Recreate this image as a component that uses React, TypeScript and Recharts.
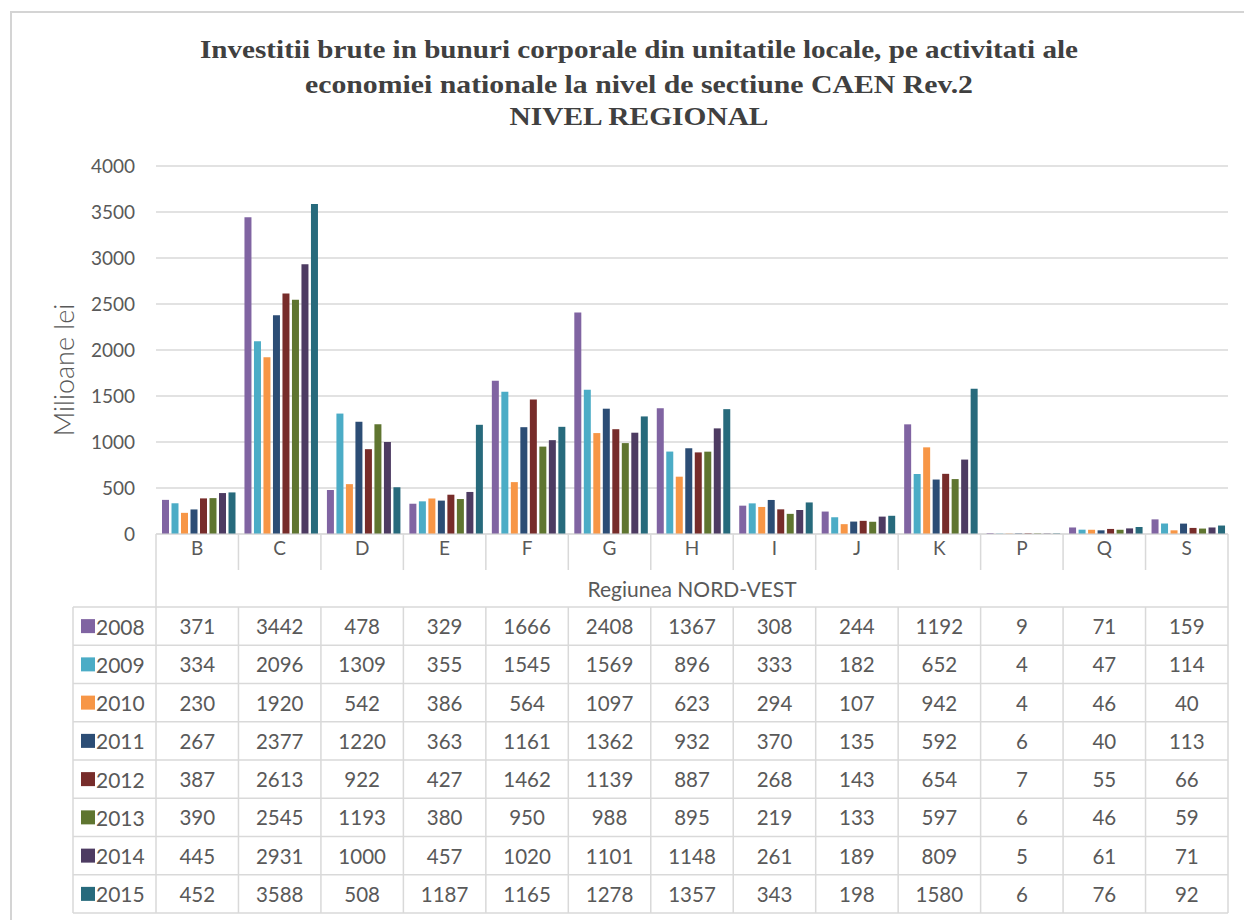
import React from 'react';
import { BarChart, Bar, XAxis, YAxis, CartesianGrid } from 'recharts';

const categories = ['B', 'C', 'D', 'E', 'F', 'G', 'H', 'I', 'J', 'K', 'P', 'Q', 'S'];
const years = ['2008', '2009', '2010', '2011', '2012', '2013', '2014', '2015'];
const v2008 = [371, 3442, 478, 329, 1666, 2408, 1367, 308, 244, 1192, 9, 71, 159];
const v2009 = [334, 2096, 1309, 355, 1545, 1569, 896, 333, 182, 652, 4, 47, 114];
const v2010 = [230, 1920, 542, 386, 564, 1097, 623, 294, 107, 942, 4, 46, 40];
const v2011 = [267, 2377, 1220, 363, 1161, 1362, 932, 370, 135, 592, 6, 40, 113];
const v2012 = [387, 2613, 922, 427, 1462, 1139, 887, 268, 143, 654, 7, 55, 66];
const v2013 = [390, 2545, 1193, 380, 950, 988, 895, 219, 133, 597, 6, 46, 59];
const v2014 = [445, 2931, 1000, 457, 1020, 1101, 1148, 261, 189, 809, 5, 61, 71];
const v2015 = [452, 3588, 508, 1187, 1165, 1278, 1357, 343, 198, 1580, 6, 76, 92];
const series = [v2008, v2009, v2010, v2011, v2012, v2013, v2014, v2015];
const colors = ['#8064A2', '#4BACC6', '#F79646', '#2C4D75', '#772C2A', '#5F7530', '#4D3B62', '#276A7C'];
const yTicks = [0, 500, 1000, 1500, 2000, 2500, 3000, 3500, 4000];
const titleLines = [
  'Investitii brute in bunuri corporale din unitatile locale, pe activitati ale',
  'economiei nationale la nivel de sectiune CAEN Rev.2',
  'NIVEL REGIONAL',
];
const titleWidths = [878, 668, 259];
const titleBaselines = [58, 93, 125];
const xAxisTitle = 'Regiunea NORD-VEST';
const yAxisTitle = 'Milioane lei';

const data = categories.map((c, i) => {
  const row: Record<string, string | number> = { cat: c };
  years.forEach((y, s) => {
    row[y] = series[s][i];
  });
  return row;
});

const W = 1244;
const H = 920;
const plotLeft = 156;
const plotRight = 1228;
const plotBottom = 534;
const bw = (plotRight - plotLeft) / categories.length;
const tableTop = 607;
const rowH = 38.25;
const tableLeft = 73;
const lineColor = '#D9D9D9';
const textColor = '#595959';
const font = 'Lato, "Open Sans", sans-serif';

export default function App() {
  const colX = (k: number) => plotLeft + k * bw;
  const tableBottom = tableTop + rowH * years.length;
  return (
    <div style={{ position: 'absolute', left: 0, top: 0, width: W, height: H, background: '#fff', overflow: 'hidden' }}>
      <div style={{ position: 'absolute', left: 10, top: 11, width: 1400, height: 1200, borderTop: '2px solid #D4D4D4', borderLeft: '2px solid #D4D4D4' }} />
      <div style={{ position: 'absolute', left: 0, top: 0 }}>
        <BarChart
          width={W}
          height={H}
          data={data}
          margin={{ top: 166, right: W - plotRight, bottom: 350, left: 0 }}
          barCategoryGap={6}
          barGap={2.5}
        >
          <CartesianGrid vertical={false} stroke={lineColor} strokeWidth={1.5} />
          <XAxis
            dataKey="cat"
            height={36}
            axisLine={{ stroke: lineColor }}
            tickLine={false}
            tickSize={0}
            tickMargin={8}
            tick={{ fill: textColor, fontSize: 19, fontFamily: font }}
            interval={0}
          />
          <YAxis
            width={plotLeft}
            domain={[0, 4000]}
            ticks={yTicks}
            axisLine={false}
            tickLine={false}
            tickSize={0}
            tickMargin={21}
            tick={{ fill: textColor, fontSize: 19, fontFamily: font }}
          />
          {years.map((y, s) => (
            <Bar key={y} dataKey={y} fill={colors[s]} isAnimationActive={false} />
          ))}
        </BarChart>
      </div>
      <svg width={W} height={H} style={{ position: 'absolute', left: 0, top: 0, pointerEvents: 'none' }}>
        {titleLines.map((t, i) => (
          <text
            key={i}
            x={639}
            y={titleBaselines[i]}
            textAnchor="middle"
            fontFamily='"Liberation Serif", "Times New Roman", serif'
            fontWeight="bold"
            fontSize={25}
            textLength={titleWidths[i]}
            lengthAdjust="spacingAndGlyphs"
            fill="#404040"
          >
            {t}
          </text>
        ))}
        <text
          x={63}
          y={370}
          transform="rotate(-90, 63, 370)"
          textAnchor="middle"
          dominantBaseline="central"
          fontFamily={font}
          fontSize={27}
          fontWeight={300}
          fill={textColor}
        >
          {yAxisTitle}
        </text>
        {categories.map((c, k) => (
          k > 0 ? <line key={'cv' + k} x1={colX(k)} x2={colX(k)} y1={plotBottom} y2={570} stroke={lineColor} strokeWidth={1.5} /> : null
        ))}
        <line x1={plotLeft} x2={plotLeft} y1={plotBottom} y2={tableBottom} stroke={lineColor} strokeWidth={1.5} />
        <line x1={plotRight} x2={plotRight} y1={plotBottom} y2={tableBottom} stroke={lineColor} strokeWidth={1.5} />
        <text x={(plotLeft + plotRight) / 2} y={588} textAnchor="middle" dominantBaseline="central" fontFamily={font} fontSize={21} fill={textColor}>
          {xAxisTitle}
        </text>
        {years.map((_, r) => (
          <line key={'h' + r} x1={tableLeft} x2={plotRight} y1={tableTop + r * rowH} y2={tableTop + r * rowH} stroke={lineColor} strokeWidth={1.5} />
        ))}
        <line x1={tableLeft} x2={plotRight} y1={tableBottom} y2={tableBottom} stroke={lineColor} strokeWidth={1.5} />
        <line x1={tableLeft} x2={tableLeft} y1={tableTop} y2={tableBottom} stroke={lineColor} strokeWidth={1.5} />
        {categories.map((c, k) => (
          k > 0 ? <line key={'tv' + k} x1={colX(k)} x2={colX(k)} y1={tableTop} y2={tableBottom} stroke={lineColor} strokeWidth={1.5} /> : null
        ))}
        {years.map((y, r) => {
          const cy = tableTop + r * rowH + rowH / 2;
          return (
            <g key={'row' + y}>
              <rect x={81} y={cy - 7} width={14} height={14} fill={colors[r]} />
              <text x={96} y={cy} dominantBaseline="central" fontFamily={font} fontSize={21} fill={textColor}>{y}</text>
              {series[r].map((v, k) => (
                <text key={k} x={colX(k) + bw / 2} y={cy} textAnchor="middle" dominantBaseline="central" fontFamily={font} fontSize={20.5} fill={textColor}>
                  {v}
                </text>
              ))}
            </g>
          );
        })}
      </svg>
    </div>
  );
}
